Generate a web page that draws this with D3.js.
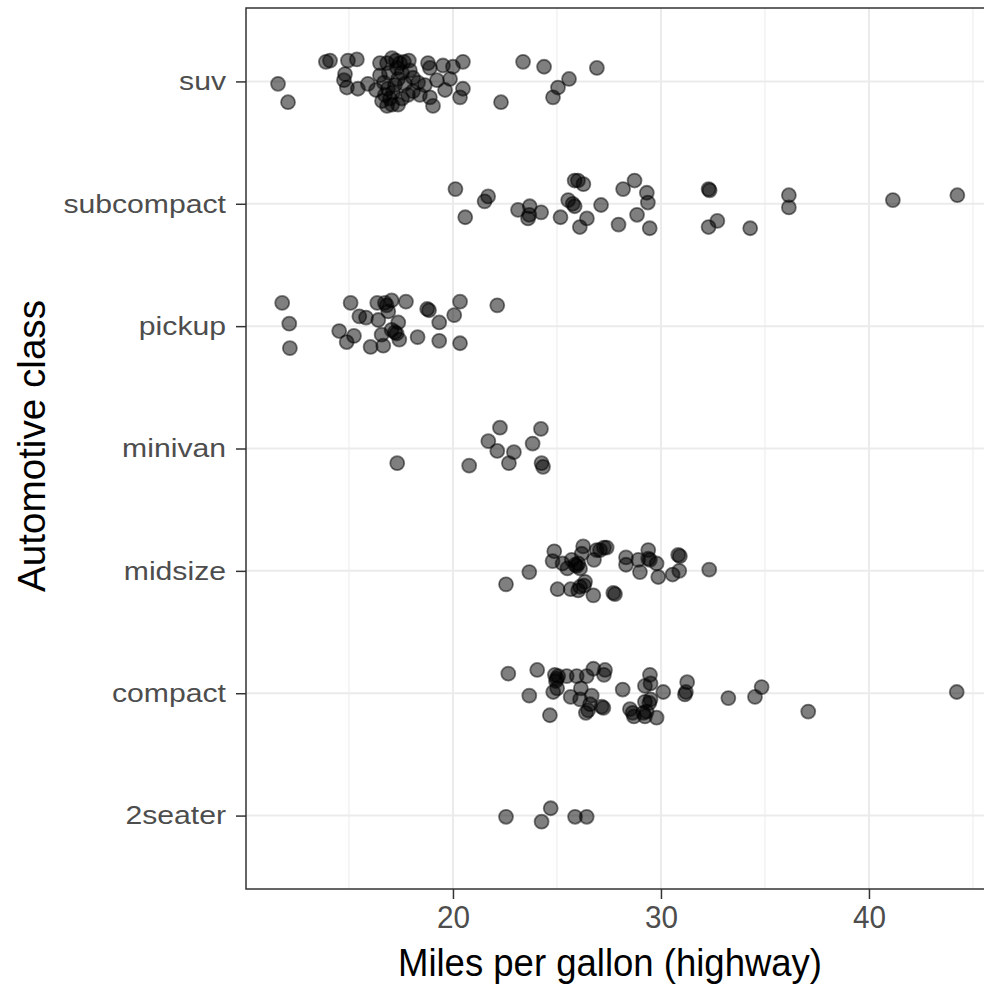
<!DOCTYPE html>
<html>
<head>
<meta charset="utf-8">
<script src="https://cdn.jsdelivr.net/npm/d3@7"></script>
<style>
  body { margin: 0; background: #fff; }
  text { font-family: "Liberation Sans", Arial, Helvetica, sans-serif; }
</style>
</head>
<body>
<svg id="chart" width="984" height="986"></svg>
<script>
// Vehicle classes, top to bottom
const classes = ["suv", "subcompact", "pickup", "minivan", "midsize", "compact", "2seater"];
const xTicks = [20, 30, 40];
const xMinor = [15, 25, 35, 45];

// Highway mpg (jittered) and vertical jitter (in class units, + is up) per class
const suvHwy = [11.59, 12.07, 13.89, 14.09, 14.95, 15.38, 14.81, 14.76, 14.90, 15.43, 15.91, 16.49, 17.07, 16.83, 17.45, 17.88, 18.80, 18.89, 19.52, 20.00, 20.48, 19.86, 20.48, 20.34, 19.04, 18.89, 19.23, 18.65, 19.62, 18.08, 18.08, 17.55, 16.83, 22.31, 23.37, 24.38, 25.58, 25.05, 24.81, 26.92, 16.49, 16.68, 16.87, 16.73, 16.59, 16.97, 17.12, 17.21, 17.36, 17.55, 17.31, 16.92, 17.69, 17.84, 17.07, 17.36, 16.30, 17.93, 17.64, 17.26, 18.32, 18.41];
const suvJitter = [-0.02, -0.17, 0.16, 0.17, 0.17, 0.18, 0.06, 0.01, -0.05, -0.06, -0.02, 0.15, 0.19, 0.15, 0.15, 0.17, 0.15, 0.11, 0.13, 0.12, 0.16, 0.02, -0.06, -0.13, -0.20, -0.13, 0.01, -0.03, -0.07, 0.03, -0.08, -0.14, -0.20, -0.17, 0.16, 0.12, 0.02, -0.05, -0.13, 0.11, 0.05, -0.01, -0.06, -0.11, -0.16, -0.14, -0.09, -0.03, 0.02, 0.07, 0.11, 0.07, -0.02, -0.11, -0.19, -0.19, -0.07, 0.09, 0.16, 0.17, -0.01, -0.11];

const subcompactHwy = [20.12, 20.59, 21.52, 21.69, 23.13, 23.69, 23.61, 23.67, 24.24, 25.17, 25.54, 25.76, 25.85, 25.85, 26.01, 26.27, 26.10, 26.44, 27.12, 27.96, 28.18, 28.73, 28.85, 29.32, 29.37, 29.46, 32.29, 32.34, 32.29, 32.71, 34.29, 36.15, 36.15, 41.15, 44.25];
const subcompactJitter = [0.12, -0.11, 0.02, 0.06, -0.05, -0.02, -0.12, -0.09, -0.07, -0.11, 0.03, 0.00, -0.02, 0.19, 0.19, 0.16, -0.19, -0.12, -0.01, -0.17, 0.12, 0.19, -0.09, 0.09, 0.01, -0.20, 0.12, 0.11, -0.19, -0.14, -0.20, 0.07, -0.03, 0.03, 0.07];

const pickupHwy = [11.79, 12.13, 12.16, 14.53, 15.08, 15.24, 14.89, 15.50, 15.82, 16.04, 16.65, 16.41, 16.36, 16.57, 16.81, 17.05, 16.89, 16.73, 17.74, 17.37, 17.21, 17.29, 17.42, 18.30, 18.76, 18.85, 19.34, 19.34, 20.06, 20.34, 20.34, 22.13, 17.05];
const pickupJitter = [0.19, 0.02, -0.18, -0.04, 0.19, -0.08, -0.13, 0.08, 0.07, -0.17, -0.16, 0.05, 0.19, -0.07, 0.17, 0.21, 0.12, 0.19, 0.20, 0.03, -0.05, -0.06, -0.11, -0.09, 0.14, 0.13, 0.03, -0.12, 0.09, 0.20, -0.14, 0.17, -0.03];

const minivanHwy = [17.32, 20.78, 22.26, 21.70, 22.13, 22.93, 22.69, 23.83, 24.23, 24.26, 24.33];
const minivanJitter = [-0.12, -0.14, 0.17, 0.06, -0.02, -0.03, -0.12, 0.04, 0.16, -0.12, -0.15];

const midsizeHwy = [22.55, 23.67, 24.87, 24.79, 25.27, 25.03, 25.66, 25.71, 25.95, 26.02, 26.11, 26.26, 26.19, 26.78, 26.91, 27.26, 27.39, 26.11, 26.35, 26.02, 26.75, 27.71, 27.79, 28.32, 28.32, 28.91, 28.99, 29.39, 29.39, 29.47, 29.87, 29.79, 30.56, 30.83, 30.91, 30.88, 32.32, 25.87, 25.50, 26.30, 27.07];
const midsizeJitter = [-0.11, -0.01, 0.16, 0.08, 0.06, -0.15, -0.15, 0.09, 0.04, 0.06, 0.02, 0.20, 0.14, 0.09, 0.17, 0.19, 0.19, -0.13, -0.09, -0.16, -0.20, -0.18, -0.19, 0.11, 0.05, 0.09, -0.01, 0.17, 0.10, 0.09, -0.05, 0.06, -0.03, 0.13, 0.12, 0.00, 0.01, 0.05, 0.02, -0.12, 0.17];

const compactHwy = [22.66, 23.67, 24.05, 24.66, 24.90, 24.99, 24.95, 25.06, 24.82, 25.01, 25.47, 25.95, 26.43, 26.75, 27.31, 27.26, 26.15, 25.66, 26.67, 26.11, 26.59, 27.15, 27.23, 26.39, 26.50, 28.16, 28.51, 28.64, 28.70, 29.15, 29.23, 29.31, 29.23, 29.44, 29.50, 29.47, 29.50, 29.23, 29.79, 30.11, 31.15, 31.20, 31.26, 33.24, 34.52, 34.84, 37.08, 44.22];
const compactJitter = [0.16, -0.02, 0.19, -0.18, 0.15, 0.12, 0.10, 0.14, 0.01, 0.04, 0.14, 0.14, 0.14, 0.20, 0.19, 0.15, 0.04, -0.03, -0.02, -0.05, -0.09, -0.11, -0.12, -0.16, -0.14, 0.03, -0.13, -0.16, -0.19, -0.16, -0.19, -0.15, -0.07, -0.08, -0.05, 0.15, 0.08, 0.06, -0.20, 0.01, -0.01, 0.01, 0.09, -0.04, -0.03, 0.05, -0.15, 0.01];

const twoSeaterHwy = [22.55, 24.26, 24.70, 25.87, 26.43];
const twoSeaterJitter = [-0.01, -0.05, 0.06, -0.01, -0.01];

const seriesByClass = {
  "suv": [suvHwy, suvJitter],
  "subcompact": [subcompactHwy, subcompactJitter],
  "pickup": [pickupHwy, pickupJitter],
  "minivan": [minivanHwy, minivanJitter],
  "midsize": [midsizeHwy, midsizeJitter],
  "compact": [compactHwy, compactJitter],
  "2seater": [twoSeaterHwy, twoSeaterJitter]
};

const points = [];
classes.forEach(c => {
  const [hwy, jit] = seriesByClass[c];
  hwy.forEach((v, i) => points.push({ cls: c, hwy: v, jitter: jit[i] }));
});

// Panel geometry
const panel = { left: 246, top: 8, right: 1000, bottom: 889 };

const x = d3.scaleLinear().domain([10.05, 46.3]).range([panel.left, panel.right]);
const y = d3.scalePoint().domain(classes).range([panel.top, panel.bottom]).padding(0.6);

const svg = d3.select("#chart");

// Panel background
svg.append("rect")
  .attr("x", panel.left).attr("y", panel.top)
  .attr("width", panel.right - panel.left).attr("height", panel.bottom - panel.top)
  .attr("fill", "#fff");

// Grid lines
const grid = svg.append("g");
grid.selectAll("line.minor-x").data(xMinor).join("line")
  .attr("class", "minor-x")
  .attr("x1", d => x(d)).attr("x2", d => x(d))
  .attr("y1", panel.top).attr("y2", panel.bottom)
  .attr("stroke", "#ebebeb").attr("stroke-width", 1);
grid.selectAll("line.major-x").data(xTicks).join("line")
  .attr("class", "major-x")
  .attr("x1", d => x(d)).attr("x2", d => x(d))
  .attr("y1", panel.top).attr("y2", panel.bottom)
  .attr("stroke", "#ebebeb").attr("stroke-width", 2);
grid.selectAll("line.major-y").data(classes).join("line")
  .attr("class", "major-y")
  .attr("x1", panel.left).attr("x2", panel.right)
  .attr("y1", d => y(d)).attr("y2", d => y(d))
  .attr("stroke", "#ebebeb").attr("stroke-width", 2);

// Points
svg.append("g").selectAll("circle").data(points).join("circle")
  .attr("cx", d => x(d.hwy))
  .attr("cy", d => y(d.cls) - d.jitter * y.step())
  .attr("r", 7)
  .attr("fill", "#000").attr("fill-opacity", 0.5)
  .attr("stroke", "#000").attr("stroke-opacity", 0.5).attr("stroke-width", 1.8);

// Panel border
svg.append("rect")
  .attr("x", panel.left).attr("y", panel.top)
  .attr("width", panel.right - panel.left).attr("height", panel.bottom - panel.top)
  .attr("fill", "none").attr("stroke", "#333").attr("stroke-width", 1.5);

// Y axis
const yAxis = d3.axisLeft(y).tickSize(10).tickPadding(10);
const gy = svg.append("g").attr("transform", `translate(${panel.left},0)`).call(yAxis);
gy.select(".domain").remove();
gy.selectAll(".tick line").attr("stroke", "#333").attr("stroke-width", 1.5);
gy.selectAll(".tick text")
  .attr("fill", "#4d4d4d")
  .style("font-size", "26px")
  .each(function () {
    // labels are set slightly wider than the default face
    const w = this.getComputedTextLength();
    d3.select(this).attr("textLength", w * 1.16).attr("lengthAdjust", "spacingAndGlyphs");
  });

// X axis
const xAxis = d3.axisBottom(x).tickValues(xTicks).tickSize(10).tickPadding(6);
const gx = svg.append("g").attr("transform", `translate(0,${panel.bottom})`).call(xAxis);
gx.select(".domain").remove();
gx.selectAll(".tick line").attr("stroke", "#333").attr("stroke-width", 1.5);
gx.selectAll(".tick text")
  .attr("fill", "#4d4d4d")
  .style("font-size", "32px")
  .attr("textLength", 33)
  .attr("lengthAdjust", "spacingAndGlyphs");

// Axis titles
svg.append("text")
  .attr("x", 610).attr("y", 976)
  .attr("text-anchor", "middle")
  .attr("fill", "#000")
  .style("font-size", "38px")
  .attr("textLength", 424)
  .attr("lengthAdjust", "spacingAndGlyphs")
  .text("Miles per gallon (highway)");

svg.append("text")
  .attr("transform", "translate(45,446) rotate(-90)")
  .attr("text-anchor", "middle")
  .attr("fill", "#000")
  .style("font-size", "38px")
  .attr("textLength", 292)
  .attr("lengthAdjust", "spacingAndGlyphs")
  .text("Automotive class");
</script>
</body>
</html>
